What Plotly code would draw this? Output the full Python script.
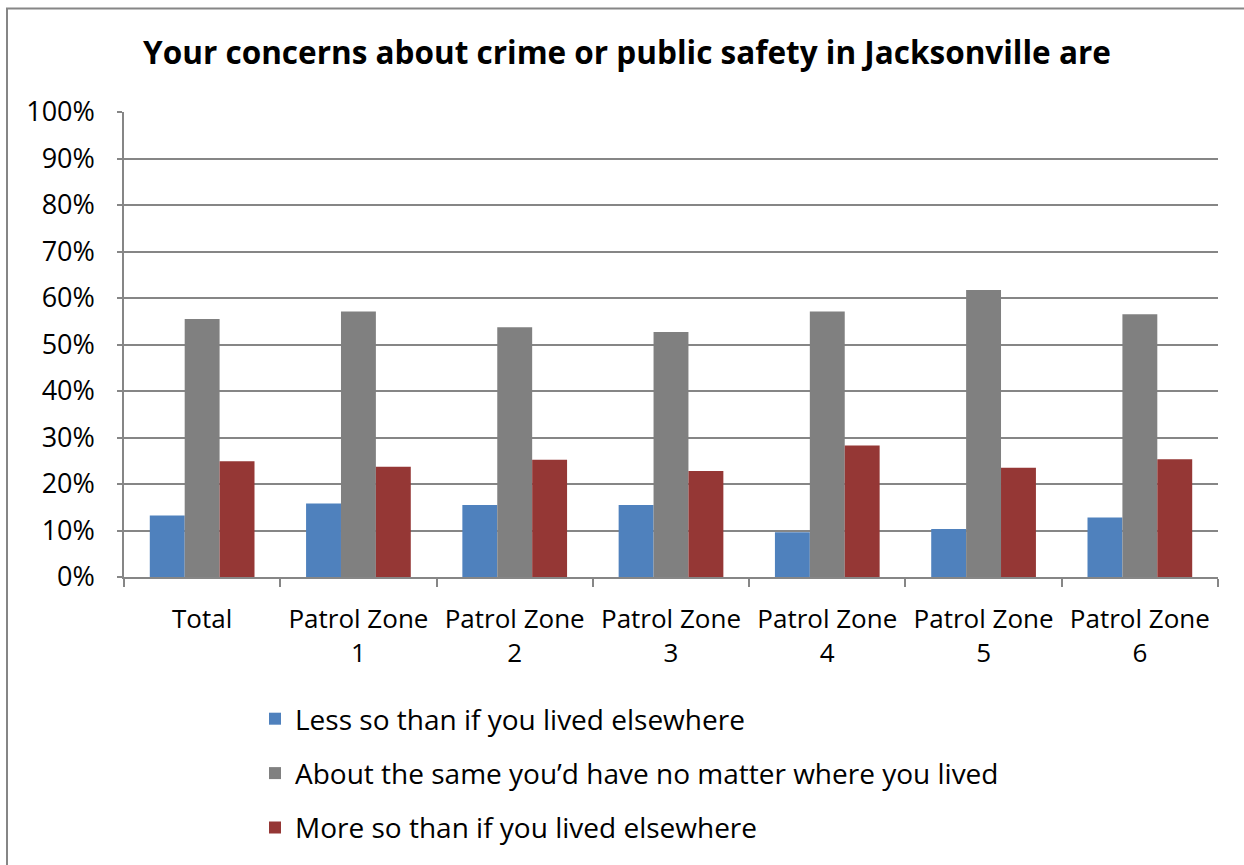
import plotly.graph_objects as go

categories = ["Total", "Patrol Zone<br>1", "Patrol Zone<br>2", "Patrol Zone<br>3",
              "Patrol Zone<br>4", "Patrol Zone<br>5", "Patrol Zone<br>6"]
less_so = [0.132, 0.158, 0.155, 0.155, 0.096, 0.103, 0.128]
about_same = [0.555, 0.571, 0.537, 0.527, 0.571, 0.617, 0.565]
more_so = [0.249, 0.237, 0.252, 0.228, 0.283, 0.235, 0.253]

series_names = ["Less so than if you lived elsewhere",
                "About the same you’d have no matter where you lived",
                "More so than if you lived elsewhere"]
colors = ["#4F81BD", "#808080", "#953735"]
tick_vals = [i / 10 for i in range(11)]
tick_text = [f"{i*10}%" for i in range(11)]

FONT = "Open Sans"

fig = go.Figure()
for i, (name, vals, col) in enumerate(zip(series_names, [less_so, about_same, more_so], colors)):
    fig.add_trace(go.Bar(x=categories, y=vals, name=name, marker=dict(color=col, line=dict(width=0)),
                         legendgroup=f"g{i}"))

W, H = 1244, 865
ml, mr, mt, mb = 124, 26, 112, 288
pw, ph = W - ml - mr, H - mt - mb

def px_x(p):
    return (p - ml) / pw

def px_y(p):
    return (H - mb - p) / ph

fig.update_layout(
    width=W, height=H,
    margin=dict(l=ml, r=mr, t=mt, b=mb),
    paper_bgcolor="white", plot_bgcolor="white",
    font=dict(family=FONT, color="black", size=26),
    title=dict(text="<b>Your concerns about crime or public safety in Jacksonville are</b>",
               x=0.504, xanchor="center", y=1 - 53 / H, yanchor="middle",
               font=dict(size=31.5, family=FONT, color="black")),
    barmode="group", bargap=0.33, bargroupgap=0,
    showlegend=True,
    legend=dict(x=px_x(255), y=px_y(694), xanchor="left", yanchor="top",
                orientation="v", tracegroupgap=15, font=dict(size=28, family=FONT),
                itemwidth=30, bgcolor="rgba(0,0,0,0)"),
    shapes=[dict(type="rect", xref="paper", yref="paper",
                 x0=px_x(7), x1=px_x(1270), y0=px_y(890), y1=px_y(8.5),
                 line=dict(color="#868686", width=2), fillcolor="rgba(0,0,0,0)", layer="below")],
)
fig.update_xaxes(showline=True, linecolor="#868686", linewidth=1.5, ticks="outside",
                 tickson="boundaries", ticklen=8, tickcolor="#868686", tickwidth=1.5,
                 tickfont=dict(size=26, family=FONT), showgrid=False, ticklabelstandoff=18)
fig.update_yaxes(range=[0, 1], tickvals=tick_vals, ticktext=tick_text, showline=True,
                 linecolor="#868686", linewidth=1.5, ticks="outside", ticklen=5,
                 tickcolor="#868686", tickwidth=1.5, showgrid=True, gridcolor="#868686",
                 gridwidth=1.5, tickfont=dict(size=27, family=FONT), zeroline=False,
                 ticklabelstandoff=17)

fig.write_html("out.html", config={"displayModeBar": False},
               post_script="document.body.style.margin='0px';")
